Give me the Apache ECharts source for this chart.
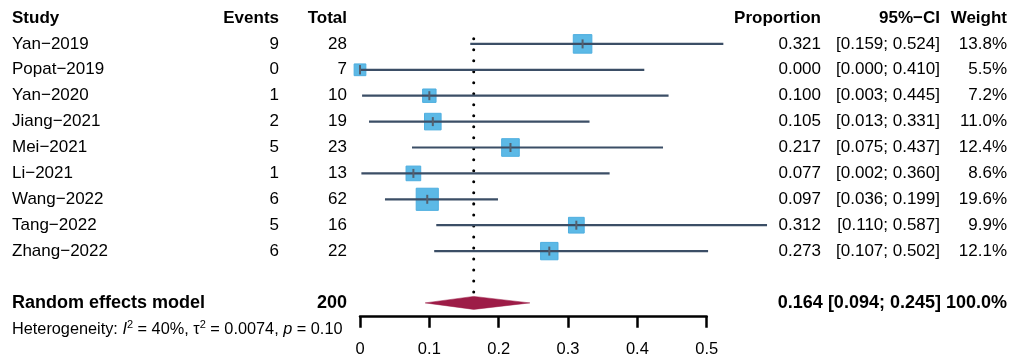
<!DOCTYPE html>
<html><head><meta charset="utf-8">
<script src="https://cdn.jsdelivr.net/npm/echarts@6/dist/echarts.min.js"></script>
<style>html,body{margin:0;padding:0;background:#fff}#c{width:1023px;height:361px}</style>
</head><body><div id="c"></div>
<script>
const studies = ['Yan\u22122019','Popat\u22122019','Yan\u22122020','Jiang\u22122021','Mei\u22122021','Li\u22122021','Wang\u22122022','Tang\u22122022','Zhang\u22122022'];
const events = [9,0,1,2,5,1,6,5,6];
const totals = [28,7,10,19,23,13,62,16,22];
const proportion = [0.321,0.000,0.100,0.105,0.217,0.077,0.097,0.312,0.273];
const ciLower = [0.159,0.000,0.003,0.013,0.075,0.002,0.036,0.110,0.107];
const ciUpper = [0.524,0.410,0.445,0.331,0.437,0.360,0.199,0.587,0.502];
const weights = [13.8,5.5,7.2,11.0,12.4,8.6,19.6,9.9,12.1];
const pooled = {est:0.164, lo:0.094, hi:0.245, total:200, weight:100.0};
const hetero = {I2:'40%', tau2:'0.0074', p:'0.10'};
const xTicks = [0,0.1,0.2,0.3,0.4,0.5];

const FONT = '"Liberation Sans", Arial, sans-serif';
const f3 = v => v.toFixed(3);
const studyData = studies.map((s,i)=>[proportion[i], i, ciLower[i], ciUpper[i], weights[i]]);
const pooledRow = studies.length + 1;

function mkText(rowsObj, colsDef, bold, fs){
  return {
    type:'custom', coordinateSystem:'cartesian2d', clip:false, silent:true,
    data: rowsObj.map(r=>[r.row]),
    renderItem(params, api){
      const y = api.coord([0, api.value(0)])[1];
      const r = rowsObj[params.dataIndex];
      return {type:'group', children: colsDef.map(c=>({
        type:'text',
        style:{x:c.x, y:y, text:c.get(r), textAlign:c.align, textVerticalAlign:'middle',
          font:(bold?'bold ':'') + fs + 'px ' + FONT, fill:'#000'}
      }))};
    }
  };
}
const studyRows = studies.map((s,i)=>({row:i, s, e:events[i], t:totals[i], p:proportion[i], lo:ciLower[i], hi:ciUpper[i], w:weights[i]}));
const cols = [
  {x:12, align:'left', get:r=>r.s},
  {x:279, align:'right', get:r=>String(r.e)},
  {x:347, align:'right', get:r=>String(r.t)},
  {x:821, align:'right', get:r=>f3(r.p)},
  {x:940, align:'right', get:r=>'['+f3(r.lo)+'; '+f3(r.hi)+']'},
  {x:1007, align:'right', get:r=>r.w.toFixed(1)+'%'}
];
const headerRow = [{row:-1, s:'Study', e:'Events', t:'Total', p:'Proportion', ci:'95%\u2212CI', w:'Weight'}];
const headerCols = [
  {x:12, align:'left', get:r=>r.s},
  {x:279, align:'right', get:r=>r.e},
  {x:347, align:'right', get:r=>r.t},
  {x:821, align:'right', get:r=>r.p},
  {x:940, align:'right', get:r=>r.ci},
  {x:1007, align:'right', get:r=>r.w}
];
const pooledRows = [{row:pooledRow, s:'Random effects model', t:String(pooled.total),
  txt: f3(pooled.est)+' ['+f3(pooled.lo)+'; '+f3(pooled.hi)+'] '+pooled.weight.toFixed(1)+'%'}];
const pooledCols = [
  {x:12, align:'left', get:r=>r.s},
  {x:347, align:'right', get:r=>r.t},
  {x:1007, align:'right', get:r=>r.txt}
];

const option = {
  animation:false,
  backgroundColor:'#fff',
  grid:{left:360, right:1023-706.7, top:18, height:25.9*11.53},
  xAxis:{type:'value', min:0, max:0.5, interval:0.1, position:'bottom',
    axisLine:{show:true, onZero:false, lineStyle:{color:'#000', width:2.5}},
    axisTick:{show:true, length:11, lineStyle:{color:'#000', width:2.5}},
    axisLabel:{fontFamily:FONT, fontSize:16.5, color:'#000', margin:24,
      formatter:v=>xTicks.includes(+v.toFixed(1)) ? (v===0?'0':String(+v.toFixed(1))) : ''},
    splitLine:{show:false}},
  yAxis:{type:'value', min:-1, max:10.53, inverse:true, show:false},
  series:[
    {type:'custom', clip:false, silent:true, data:[[pooled.est]],
      renderItem(params, api){
        const top = api.coord([api.value(0), -0.2]);
        const bot = api.coord([api.value(0), pooledRow-0.3]);
        return {type:'line', shape:{x1:top[0], y1:top[1], x2:bot[0], y2:bot[1]},
          style:{stroke:'#000', lineWidth:3, lineDash:[0.01,11], lineCap:'round'}};
      }},
    {type:'custom', clip:false, silent:true, data:studyData,
      renderItem(params, api){
        const est = api.value(0), row = api.value(1), lo = api.value(2), hi = api.value(3), w = api.value(4);
        const pLo = api.coord([lo,row]), pHi = api.coord([hi,row]), pE = api.coord([est,row]);
        const side = 5*Math.sqrt(w);
        const ch = [
          {type:'rect', shape:{x:pE[0]-side/2, y:pE[1]-side/2, width:side, height:side},
            style:{fill:'#5cb9e6', stroke:'#4eaedf', lineWidth:1}},
          {type:'line', shape:{x1:pLo[0], y1:pLo[1], x2:pHi[0], y2:pHi[1]},
            style:{stroke:'#3b4e66', lineWidth:2.2}},
          {type:'line', shape:{x1:pE[0], y1:pE[1]-4.5, x2:pE[0], y2:pE[1]+4.5},
            style:{stroke:'#55606e', lineWidth:2}}
        ];
        if (lo === 0) ch.push({type:'line', shape:{x1:pLo[0], y1:pLo[1]-4.5, x2:pLo[0], y2:pLo[1]+4.5},
            style:{stroke:'#55606e', lineWidth:2}});
        return {type:'group', children:ch};
      }},
    {type:'custom', clip:false, silent:true, data:[[pooled.est, pooledRow, pooled.lo, pooled.hi]],
      renderItem(params, api){
        const row = api.value(1);
        const c = api.coord([api.value(0),row]), l = api.coord([api.value(2),row]), r = api.coord([api.value(3),row]);
        const h = 6.5;
        return {type:'polygon', shape:{points:[[l[0],c[1]],[c[0],c[1]-h],[r[0],c[1]],[c[0],c[1]+h]]},
          style:{fill:'#9d1c47', stroke:'#9d1c47', lineWidth:0.5}};
      }},
    mkText(studyRows, cols, false, 17),
    mkText(headerRow, headerCols, true, 17),
    mkText(pooledRows, pooledCols, true, 18),
    {type:'custom', clip:false, silent:true, data:[[pooledRow+1]],
      renderItem(params, api){
        const y = api.coord([0, api.value(0)])[1];
        return {type:'text', style:{x:12, y:y+1, textVerticalAlign:'middle',
          text:'Heterogeneity: {i|I}{sup|2} = '+hetero.I2+', \u03c4{sup|2} = '+hetero.tau2+', {i|p} = '+hetero.p,
          font:'16.3px '+FONT, fill:'#000',
          rich:{i:{fontStyle:'italic', fontFamily:FONT, fontSize:16.3},
                sup:{fontSize:11, fontFamily:FONT, verticalAlign:'top', padding:[0,0,9,0]}}}};
      }}
  ]
};
const chart = echarts.init(document.getElementById('c'), null, {renderer:'canvas'});
chart.setOption(option);
</script></body></html>
